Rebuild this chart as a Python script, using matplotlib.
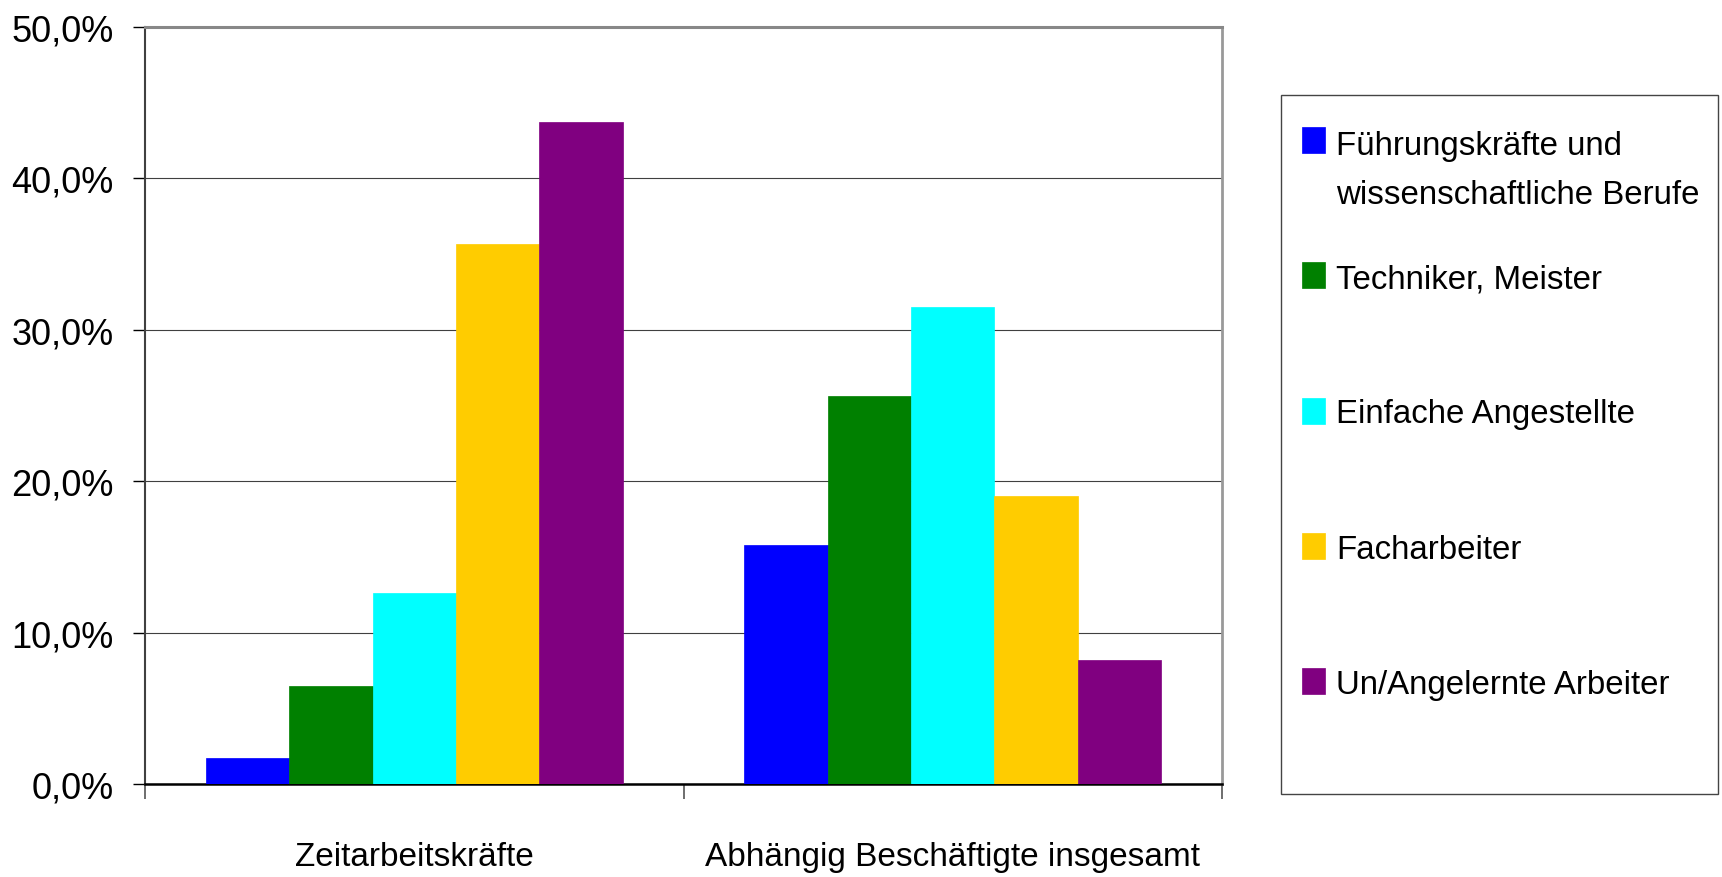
import matplotlib
matplotlib.use("Agg")
import matplotlib.pyplot as plt
from matplotlib.patches import Rectangle
from matplotlib.ticker import FixedLocator, FuncFormatter

plt.rcParams["font.family"] = ["Liberation Sans", "DejaVu Sans"]

categories = ["Zeitarbeitskräfte", "Abhängig Beschäftigte insgesamt"]
groups = [
    "Führungskräfte und\nwissenschaftliche Berufe",
    "Techniker, Meister",
    "Einfache Angestellte",
    "Facharbeiter",
    "Un/Angelernte Arbeiter",
]
colors = ["#0000ff", "#008000", "#00ffff", "#ffcc00", "#800080"]
# share in percent, one list per occupational group: [Zeitarbeit, insgesamt]
fuehrung = [1.7, 15.8]
techniker = [6.5, 25.6]
angestellte = [12.6, 31.5]
facharbeiter = [35.7, 19.0]
ungelernte = [43.7, 8.2]
values = [fuehrung, techniker, angestellte, facharbeiter, ungelernte]
yticks = [0, 10, 20, 30, 40, 50]

W, H = 1722, 878
fig = plt.figure(figsize=(W / 100, H / 100), dpi=100)
ax = fig.add_axes([145 / W, 1 - 785 / H, (1222 - 145) / W, (785 - 28) / H])

bw = 0.155
for i, (vals, col) in enumerate(zip(values, colors)):
    xs = [c + (i - 2) * bw for c in range(len(categories))]
    ax.bar(xs, vals, width=bw, color=col, edgecolor=col, linewidth=0.5, zorder=3)

ax.set_xlim(-0.5, len(categories) - 0.5)
ax.set_ylim(0, 50)
ax.set_axisbelow(True)

ax.yaxis.set_major_locator(FixedLocator(yticks))
ax.yaxis.set_major_formatter(FuncFormatter(lambda v, _: f"{v:.1f}%".replace(".", ",")))
ax.yaxis.grid(True, color="#404040", lw=0.8)
ax.tick_params(axis="y", length=8.6, width=1.0, pad=14, labelsize=26, color="black")

# labels at the category centres, tick marks on the boundaries
ax.set_xticks(range(len(categories)))
ax.set_xticklabels(categories, fontsize=24)
ax.set_xticks([-0.5, 0.5, 1.5], minor=True)
ax.tick_params(axis="x", which="major", length=0, pad=41)
ax.tick_params(axis="x", which="minor", length=10.8, width=1.2, color="#555555")

ax.spines["top"].set_color("#888888")
ax.spines["top"].set_linewidth(2.2)
ax.spines["right"].set_color("#999999")
ax.spines["right"].set_linewidth(2.0)
ax.spines["left"].set_color("#404040")
ax.spines["left"].set_linewidth(1.5)
ax.spines["bottom"].set_color("black")
ax.spines["bottom"].set_linewidth(1.8)

# legend box drawn by hand so the entries keep an even pitch
fig.patches.append(Rectangle((1281 / W, 1 - 795 / H), 437 / W, 699 / H,
                             transform=fig.transFigure, fill=False,
                             edgecolor="#444444", lw=1.0))
for i, (name, col) in enumerate(zip(groups, colors)):
    yc = 141 + i * 135.25
    fig.patches.append(Rectangle((1302 / W, 1 - (yc + 13) / H), 23 / W, 26 / H,
                                 transform=fig.transFigure, facecolor=col,
                                 edgecolor=col, lw=0.5))
    # wrapped labels hang below the marker row
    ty = yc + name.count("\n") * 18
    fig.text(1336 / W, 1 - ty / H, name, fontsize=23.8, va="center_baseline",
             ha="left", linespacing=1.72)

fig.savefig("out.png", dpi=100)
